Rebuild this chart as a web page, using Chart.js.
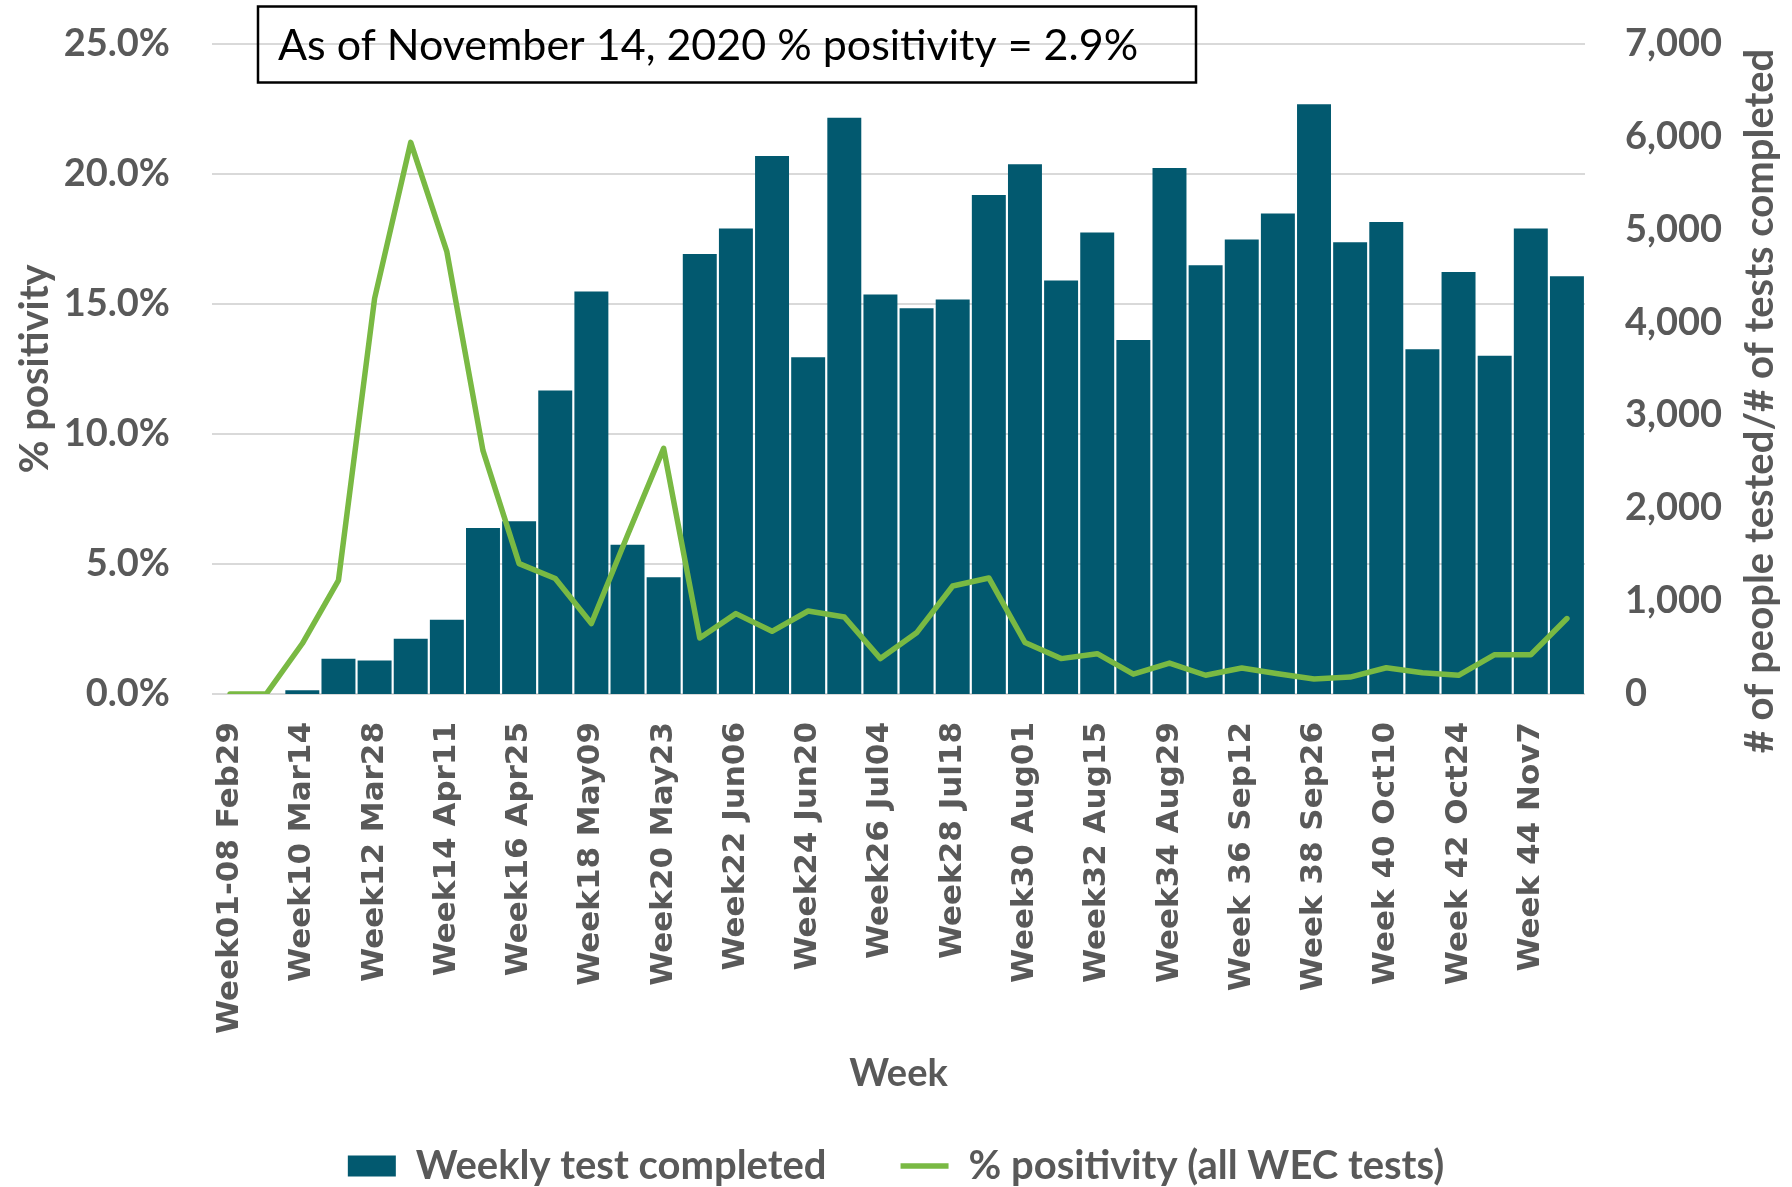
<!DOCTYPE html>
<html><head><meta charset="utf-8">
<script src="https://cdn.jsdelivr.net/npm/chart.js@4.4.0/dist/chart.umd.min.js"></script>
<style>html,body{margin:0;padding:0;background:#fff;}canvas{display:block;}</style>
</head><body>
<canvas id="c" width="1792" height="1187"></canvas>
<script>
const categories = ["Week01-08 Feb29","Week09 Mar07","Week10 Mar14","Week11 Mar21","Week12 Mar28","Week13 Apr04","Week14 Apr11","Week15 Apr18","Week16 Apr25","Week17 May02","Week18 May09","Week19 May16","Week20 May23","Week21 May30","Week22 Jun06","Week23 Jun13","Week24 Jun20","Week25 Jun27","Week26 Jul04","Week27 Jul11","Week28 Jul18","Week29 Jul25","Week30 Aug01","Week31 Aug08","Week32 Aug15","Week33 Aug22","Week34 Aug29","Week 35 Sep05","Week 36 Sep12","Week 37 Sep19","Week 38 Sep26","Week 39 Oct03","Week 40 Oct10","Week 41 Oct17","Week 42 Oct24","Week 43 Oct31","Week 44 Nov7","Week 45 Nov14"];
const weeklyTests = [0,0,40,380,360,595,800,1785,1860,3265,4330,1605,1255,4735,5010,5790,3625,6200,4300,4150,4245,5370,5700,4450,4965,3810,5660,4615,4890,5170,6345,4860,5080,3710,4540,3640,5010,4495];
const positivity = [0,0,1.94,4.37,15.2,21.2,17.0,9.35,5.01,4.44,2.71,6.1,9.44,2.15,3.09,2.41,3.19,2.96,1.36,2.35,4.15,4.46,1.98,1.36,1.55,0.76,1.19,0.72,1.0,0.78,0.58,0.65,1.01,0.82,0.72,1.51,1.51,2.9];
const leftTickValues = [0,5,10,15,20,25];
const rightTickValues = [0,1000,2000,3000,4000,5000,6000,7000];
const seriesNames = ["Weekly test completed","% positivity (all WEC tests)"];
const leftTitle = "% positivity";
const rightTitle = "# of people tested/# of tests completed";
const xTitle = "Week";
const noteText = "As of November 14, 2020 % positivity = 2.9%";

const GRAY = '#595959';
const TEAL = '#02596F';
const GREEN = '#79B943';

const overlay = {
  id: 'overlay',
  afterDraw(chart) {
    const ctx = chart.ctx;
    ctx.save();
    ctx.translate(1760, 401);
    ctx.rotate(-Math.PI / 2);
    ctx.font = 'bold 40px Lato';
    ctx.fillStyle = GRAY;
    ctx.textAlign = 'center';
    ctx.textBaseline = 'middle';
    ctx.fillText(rightTitle, 0, 0);
    ctx.restore();
    ctx.save();
    ctx.strokeStyle = '#000';
    ctx.lineWidth = 2.5;
    ctx.strokeRect(258, 6.5, 938, 76);
    ctx.font = '43px Lato';
    ctx.fillStyle = '#000';
    ctx.textAlign = 'left';
    ctx.textBaseline = 'middle';
    ctx.fillText(noteText, 278, 46);
    ctx.restore();
  }
};

new Chart(document.getElementById('c'), {
  data: {
    labels: categories,
    datasets: [
      { type: 'bar', label: seriesNames[0], data: weeklyTests, yAxisID: 'y1', backgroundColor: TEAL, borderWidth: 0,
        barPercentage: 1, categoryPercentage: 0.94, order: 1, pointStyle: 'rect' },
      { type: 'line', label: seriesNames[1], data: positivity, yAxisID: 'y', borderColor: GREEN, backgroundColor: GREEN,
        borderWidth: 5.5, pointRadius: 0, tension: 0, borderJoinStyle: 'round', borderCapStyle: 'round', order: 0, pointStyle: 'line' }
    ]
  },
  options: {
    responsive: false,
    animation: false,
    layout: { padding: { top: 43.5, bottom: -9, left: 0, right: 0 } },
    plugins: {
      tooltip: { enabled: false },
      legend: {
        position: 'bottom',
        labels: {
          usePointStyle: true, pointStyleWidth: 48, boxHeight: 21, padding: 74,
          color: GRAY, font: { family: 'Lato', size: 40, weight: 'bold' },
          sort: (a, b) => a.datasetIndex - b.datasetIndex
        }
      }
    },
    scales: {
      x: {
        type: 'category',
        grid: { display: false, drawTicks: false },
        border: { display: false },
        ticks: {
          autoSkip: false, minRotation: 90, maxRotation: 90, padding: 28,
          color: GRAY, font: { family: 'DejaVu Sans', size: 31, weight: 'bold' },
          callback: function(v, i) { return i % 2 === 0 ? this.getLabelForValue(v) : ''; }
        },
        title: { display: true, text: xTitle, color: GRAY, font: { family: 'Lato', size: 38, weight: 'bold' }, padding: { top: 0, bottom: -25 } },
        afterFit(s) { s.height = 378; }
      },
      y: {
        position: 'left', min: 0, max: 25,
        afterBuildTicks(s) { s.ticks = leftTickValues.map(v => ({ value: v })); },
        grid: { color: '#d9d9d9', lineWidth: 2, drawTicks: false },
        border: { display: false },
        ticks: { padding: 42, color: GRAY, font: { family: 'Lato', size: 38, weight: 'bold' },
          callback: v => v.toFixed(1) + '%' },
        title: { display: true, text: leftTitle, color: GRAY, font: { family: 'Lato', size: 40, weight: 'bold' }, padding: { top: 11, bottom: 0 } },
        afterFit(s) { s.width = 212; s.paddingTop = 10; s.paddingBottom = 10; }
      },
      y1: {
        position: 'right', min: 0, max: 7000,
        afterBuildTicks(s) { s.ticks = rightTickValues.map(v => ({ value: v })); },
        grid: { display: false, drawTicks: false },
        border: { display: false },
        ticks: { padding: 40, color: GRAY, font: { family: 'Lato', size: 38, weight: 'bold' },
          callback: v => v.toLocaleString('en-US') },
        afterFit(s) { s.width = 207; s.paddingTop = 10; s.paddingBottom = 10; }
      }
    }
  },
  plugins: [overlay]
});
</script>
</body></html>
